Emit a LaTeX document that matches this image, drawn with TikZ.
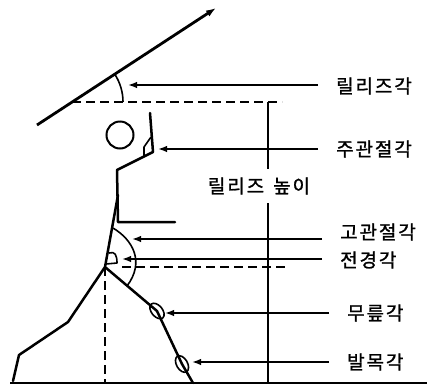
\documentclass[tikz,border=0pt]{standalone}
\usepackage{fontspec}
\newfontfamily\kor[LetterSpace=10, FakeBold=1.2]{Noto Sans CJK KR}
\usetikzlibrary{arrows.meta}

\tikzset{
  limb/.style={line width=2.5pt, line join=round, line cap=round},
  anglemark/.style={line width=1.6pt, line join=round},
  guide/.style={line width=1.5pt, dash pattern=on 9pt off 5pt},
  pointer/.style={line width=1.5pt, -{Latex[length=9pt,width=6.5pt]}},
  korfont/.style={font=\kor\fontsize{19}{19}\selectfont},
  tag/.style={korfont, anchor=west, inner xsep=18pt, inner ysep=0pt},
}

\begin{document}
\begin{tikzpicture}[x=1pt, y=-1pt]
  \useasboundingbox (0,0) rectangle (427,386);

  % joints
  \coordinate (release) at (72,102);
  \coordinate (hand) at (150,113);
  \coordinate (elbow) at (153,152);
  \coordinate (shoulder) at (117,170);
  \coordinate (hip) at (105,267);
  \coordinate (knee) at (157,311);
  \coordinate (ankle) at (182,364);
  \coordinate (toe) at (193,383);

  % ground and javelin
  \draw[line width=2.4pt] (10,383) -- (427,383);
  \draw[line width=2.8pt, -{Latex[length=10pt,width=7pt]}] (37,125) -- (216,8);
  \draw[anglemark] (release) ++(51,0) arc[start angle=0, end angle=-33, radius=51];
  \draw[guide] (release) -- (282,102);
  \draw[line width=1.5pt] (268,102) -- (268,383);
  \node[korfont, fill=white, inner xsep=2pt, inner ysep=8pt] (height) at (259,186) {릴리즈\hspace{0.15em} 높이};

  % thrower
  \draw[line width=2pt] (120,135) circle[radius=13.5];
  \draw[limb] (hand) -- (elbow) -- (shoulder) -- (118,222) -- (175,222);
  \draw[limb] (118,195) -- (hip) -- (knee) -- (ankle) -- (toe);
  \draw[limb] (hip) -- (68,322) -- (19,355) -- (13,381);
  \draw[guide] (hip) -- (105,383);
  \draw[guide] (122,267) -- (288,267);

  % angle marks
  \draw[anglemark] (151,137) -- (144,147) -- (144,157);
  \draw[anglemark] (113,228) .. controls (133,240) and (145,262) .. (127,286);
  \draw[anglemark] (109,253) .. controls (115,251) and (117,255) .. (117,263) -- (106,264);
  \draw[anglemark, rotate around={-50:(knee)}] (knee) ellipse[x radius=9, y radius=5.5];
  \draw[anglemark, rotate around={-60:(ankle)}] (ankle) ellipse[x radius=9, y radius=5.5];

  % labels
  \node[tag] (relang) at (318,86) {릴리즈각};
  \node[tag] (elbang) at (318,149) {주관절각};
  \node[tag] (hipang) at (322,232) {고관절각};
  \node[tag] (leanang) at (322,260) {전경각};
  \node[tag] (kneeang) at (329,313) {무릎각};
  \node[tag] (ankang) at (329,362) {발목각};

  \coordinate (relmark) at (128,85);
  \coordinate (elbmark) at (158,149);
  \coordinate (hipmark) at (132,239);
  \coordinate (leanmark) at (122,259);
  \coordinate (kneemark) at (165,313);
  \coordinate (ankmark) at (192,362);

  \draw[pointer] (relang.west |- relmark) -- (relmark);
  \draw[pointer] (elbang.west |- elbmark) -- (elbmark);
  \draw[pointer] (hipang.west |- hipmark) -- (hipmark);
  \draw[pointer] (leanang.west |- leanmark) -- (leanmark);
  \draw[pointer] (kneeang.west |- kneemark) -- (kneemark);
  \draw[pointer] (ankang.west |- ankmark) -- (ankmark);
\end{tikzpicture}
\end{document}
